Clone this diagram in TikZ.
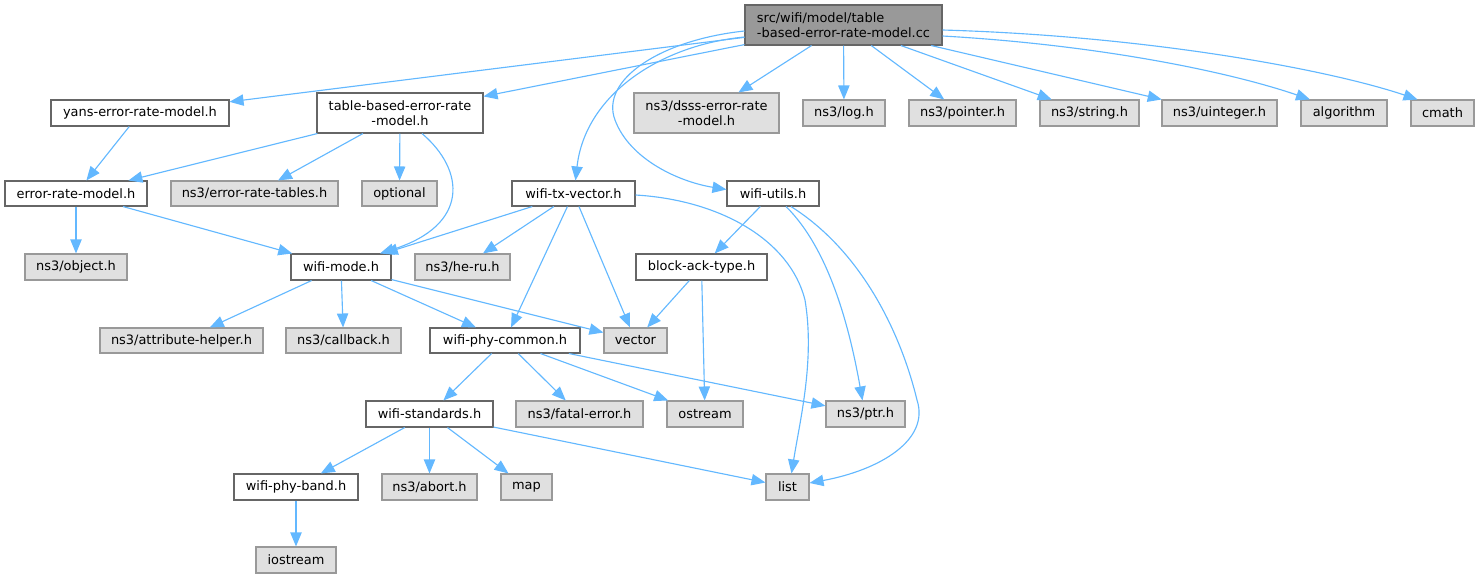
\documentclass[tikz,border=0pt]{standalone}
\usepackage{fontspec}
\setmainfont{DejaVu Sans}
\usetikzlibrary{arrows.meta,calc}
\definecolor{edgeblue}{HTML}{63B8FF}
\definecolor{bdark}{HTML}{666666}
\definecolor{ggrey}{HTML}{999999}
\definecolor{gfill}{HTML}{E0E0E0}
\newcommand\bx[7]{\node[#2, minimum width={(#5-#3)*0.75pt}, minimum height={(#6-#4)*0.75pt}] (#1) at ({(#3+#5)/2},{(#4+#6)/2}) {#7};}
\begin{document}
\begin{tikzpicture}[x=0.75pt,y=-0.75pt,
  font=\fontsize{9.7}{11.25}\selectfont,
  wbox/.style={draw=bdark, fill=white, line width=0.8pt, inner sep=0pt, align=center},
  gbox/.style={draw=ggrey, fill=gfill, line width=0.8pt, inner sep=0pt, align=center},
  rbox/.style={draw=bdark, fill=ggrey, line width=0.8pt, inner sep=0pt, align=left},
  edge/.style={draw=edgeblue, line width=0.85pt, -{Triangle[length=10.5pt,width=8.5pt]}}]
\useasboundingbox (0,0) rectangle (1479,579);
\bx{root}{rbox}{745}{5}{942}{45}{src/wifi/model/table\\-based-error-rate-model.cc}
\bx{yans}{wbox}{51}{100}{229}{126}{yans-error-rate-model.h}
\bx{tb}{wbox}{317}{93}{483}{133}{table-based-error-rate\\-model.h}
\bx{dsss}{gbox}{634}{93}{779}{133}{ns3/dsss-error-rate\\-model.h}
\bx{log}{gbox}{803}{100}{885}{126}{ns3/log.h}
\bx{pointer}{gbox}{909}{100}{1016}{126}{ns3/pointer.h}
\bx{string}{gbox}{1040}{100}{1139}{126}{ns3/string.h}
\bx{uint}{gbox}{1162}{100}{1277}{126}{ns3/uinteger.h}
\bx{alg}{gbox}{1301}{100}{1387}{126}{algorithm}
\bx{cmath}{gbox}{1411}{100}{1474}{126}{cmath}
\bx{erm}{wbox}{5}{181}{147}{206}{error-rate-model.h}
\bx{ert}{gbox}{171}{181}{338}{206}{ns3/error-rate-tables.h}
\bx{opt}{gbox}{362}{181}{437}{206}{optional}
\bx{txv}{wbox}{512}{181}{635}{206}{wifi-tx-vector.h}
\bx{wu}{wbox}{727}{181}{819}{206}{wifi-utils.h}
\bx{obj}{gbox}{25}{254}{127}{280}{ns3/object.h}
\bx{wm}{wbox}{291}{254}{391}{280}{wifi-mode.h}
\bx{heru}{gbox}{415}{254}{510}{280}{ns3/he-ru.h}
\bx{bat}{wbox}{636}{254}{767}{280}{block-ack-type.h}
\bx{attr}{gbox}{100}{328}{263}{353}{ns3/attribute-helper.h}
\bx{cb}{gbox}{286}{328}{401}{353}{ns3/callback.h}
\bx{wpc}{wbox}{430}{328}{580}{353}{wifi-phy-common.h}
\bx{vec}{gbox}{604}{328}{667}{353}{vector}
\bx{ws}{wbox}{366}{401}{493}{427}{wifi-standards.h}
\bx{fe}{gbox}{516}{401}{643}{427}{ns3/fatal-error.h}
\bx{ost}{gbox}{667}{401}{743}{427}{ostream}
\bx{ptr}{gbox}{826}{401}{905}{427}{ns3/ptr.h}
\bx{wpb}{wbox}{234}{474}{358}{500}{wifi-phy-band.h}
\bx{abort}{gbox}{382}{474}{477}{500}{ns3/abort.h}
\bx{map}{gbox}{501}{474}{552}{500}{map}
\bx{list}{gbox}{766}{474}{809}{500}{list}
\bx{ios}{gbox}{256}{547}{336}{573}{iostream}
% edges from root
\draw[edge] (root) -- (yans);
\draw[edge] (root) -- (tb);
\draw[edge] (root) -- (dsss);
\draw[edge] (root) -- (log);
\draw[edge] (root) -- (pointer);
\draw[edge] (root) -- (string);
\draw[edge] (root) -- (uint);
\draw[edge] ($(root.east)+(0,11)$) .. controls (1100,45) and (1230,72) .. ($(alg.north)+(-34,0)$);
\draw[edge] ($(root.east)+(0,5)$) .. controls (1150,36) and (1330,70) .. ($(cmath.north)+(-25,0)$);
\draw[edge] ($(root.west)+(0,12)$) .. controls (660,45) and (585,95) .. ($(txv.north)+(2,0)$);
\draw[edge] ($(root.west)+(0,6)$) .. controls (660,40) and (600,80) .. (615,120) .. controls (630,160) and (680,182) .. ($(wu.west)+(0,-4)$);
% level 1
\draw[edge] (yans) -- (erm);
\draw[edge] (tb) -- (erm);
\draw[edge] (tb) -- (ert);
\draw[edge] (tb) -- (opt);
\draw[edge] ($(tb.south)+(22,0)$) .. controls (465,170) and (470,225) .. ($(wm.north)+(39,0)$);
% level 2
\draw[edge] (erm) -- (obj);
\draw[edge] (erm) -- (wm);
\draw[edge] (txv) -- (wm);
\draw[edge] (txv) -- (heru);
\draw[edge] (txv) -- (wpc);
\draw[edge] (txv) -- (vec);
\draw[edge] ($(txv.east)+(0,1.5)$) .. controls (720,200) and (790,240) .. (805,300) .. controls (815,360) and (800,420) .. ($(list.north)+(4,0)$);
\draw[edge] (wu) -- (bat);
\draw[edge] ($(wu.south)+(13,0)$) .. controls (830,250) and (850,330) .. ($(ptr.north)+(-3,0)$);
\draw[edge] ($(wu.south)+(18,0)$) .. controls (860,250) and (900,330) .. (917,400) .. controls (930,440) and (880,470) .. ($(list.east)+(0,-4)$);
% level 3
\draw[edge] (wm) -- (attr);
\draw[edge] (wm) -- (cb);
\draw[edge] (wm) -- (wpc);
\draw[edge] (wm) -- (vec);
\draw[edge] (bat) -- (vec);
\draw[edge] (bat) -- (ost);
% level 4
\draw[edge] (wpc) -- (ws);
\draw[edge] (wpc) -- (fe);
\draw[edge] (wpc) -- (ost);
\draw[edge] (wpc) -- (ptr);
% level 5
\draw[edge] (ws) -- (wpb);
\draw[edge] (ws) -- (abort);
\draw[edge] (ws) -- (map);
\draw[edge] (ws) -- (list);
\draw[edge] (wpb) -- (ios);
\end{tikzpicture}
\end{document}
